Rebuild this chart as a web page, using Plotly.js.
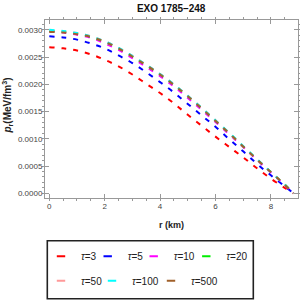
<!DOCTYPE html>
<html>
<head>
<meta charset="utf-8">
<script src="https://cdn.plot.ly/plotly-3.0.1.min.js"></script>
<style>html,body{margin:0;padding:0;background:#fff;}#chart{width:300px;height:300px;}</style>
</head>
<body>
<div id="chart"></div>
<script>
var r = [0, 0.5, 1, 1.5, 2, 2.5, 3, 3.5, 4, 4.5, 5, 5.5, 6, 6.5, 7, 7.5, 8, 8.5, 8.82];
var tau3   = [0.00268,0.00266,0.00262,0.00255,0.00245,0.00233,0.00218,0.00201,0.00184,0.00165,0.00144,0.00124,0.00104,0.00085,0.00066,0.00046,0.00027,0.00010,0];
var tau5   = [0.00288,0.00286,0.00282,0.00275,0.00266,0.00253,0.00239,0.00222,0.00204,0.00185,0.00164,0.00143,0.00122,0.00099,0.00077,0.00054,0.00033,0.00013,0];
var tau10  = [0.00297,0.00295,0.00291,0.00285,0.00275,0.00263,0.00248,0.00232,0.00215,0.00196,0.00175,0.00153,0.00131,0.00108,0.00085,0.00061,0.00038,0.00015,0];
var tau20  = [0.00298,0.00296,0.00293,0.00287,0.00278,0.00266,0.00251,0.00235,0.00218,0.00199,0.00178,0.00156,0.00133,0.00110,0.00086,0.00062,0.00039,0.00016,0];
var tau50  = [0.00299,0.00297,0.00294,0.00288,0.00279,0.00267,0.00252,0.00236,0.00219,0.00200,0.00179,0.00157,0.00134,0.00110,0.00086,0.00062,0.00039,0.00016,0];
var tau100 = [0.00300,0.00298,0.00294,0.00288,0.00279,0.00267,0.00252,0.00236,0.00219,0.00200,0.00179,0.00157,0.00134,0.00111,0.00087,0.00063,0.00039,0.00016,0];
var tau500 = [0.00296,0.00295,0.00292,0.00287,0.00278,0.00266,0.00251,0.00235,0.00218,0.00199,0.00178,0.00156,0.00133,0.00110,0.00086,0.00062,0.00039,0.00016,0];

var labels = ['<i>τ</i>=3','<i>τ</i>=5','<i>τ</i>=10','<i>τ</i>=20','<i>τ</i>=50','<i>τ</i>=100','<i>τ</i>=500'];
var series = [tau3, tau5, tau10, tau20, tau50, tau100, tau500];
var colors = ['#ff0000','#0000ff','#ff00ff','#00ee00','#ff9999','#00ffff','#a0602a'];

var font = 'Liberation Sans, Arial, sans-serif';
// legend key positions (px in the 300x300 canvas): key centre x, row centre y
var keyX = [58, 104.7, 150.7, 203.3, 58, 109, 168];
var keyY = [256.3, 256.3, 256.3, 256.3, 280.7, 280.7, 280.7];

var traces = [];
for (var i = 0; i < series.length; i++) {
  traces.push({
    x: r, y: series[i], mode: 'lines', type: 'scatter', showlegend: false,
    line: {color: colors[i], width: 2, dash: '5px,7px', shape: 'spline'},
    hoverinfo: 'skip'
  });
}
var layout = {
  width: 300, height: 300,
  margin: {l: 45, r: 2, t: 20, b: 102},
  paper_bgcolor: '#fff', plot_bgcolor: '#fff',
  font: {family: font, color: '#444', size: 8},
  title: {text: '<b>EXO 1785–248</b>', font: {family: font, size: 10, color: '#111'},
          x: 0.5705, xref: 'container', xanchor: 'center', y: 0.973, yref: 'container', yanchor: 'middle'},
  xaxis: {
    range: [-0.155, 8.98], dtick: 2, tick0: 0, showgrid: false, zeroline: false,
    showline: true, linecolor: '#999', linewidth: 1, mirror: 'ticks',
    ticks: 'inside', ticklen: 4, tickcolor: '#999', tickwidth: 1,
    minor: {dtick: 0.5, ticklen: 2, tickcolor: '#999', showgrid: false},
    tickfont: {size: 8, color: '#444'},
    title: {text: '<b>r (km)</b>', font: {size: 9, color: '#222'}, standoff: 12}
  },
  yaxis: {
    range: [-0.000086, 0.00318], dtick: 0.0005, tick0: 0, tickformat: '.4f', showgrid: false, zeroline: false,
    showline: true, linecolor: '#999', linewidth: 1, mirror: 'ticks',
    ticks: 'inside', ticklen: 4, tickcolor: '#999', tickwidth: 1,
    minor: {dtick: 0.0001, ticklen: 2, tickcolor: '#999', showgrid: false},
    tickfont: {size: 8, color: '#444'}
  },
  annotations: [{
    text: '<b><i>p</i><sub>r</sub>(MeV/fm<sup>3</sup>)</b>', textangle: -90,
    xref: 'paper', yref: 'paper', x: -0.150, y: 0.52, xanchor: 'center', yanchor: 'middle',
    showarrow: false, font: {family: font, size: 10, color: '#222'}
  }],
  shapes: [{
    type: 'rect', xref: 'paper', yref: 'paper',
    x0: (47.3 - 45) / 253, x1: (253.3 - 45) / 253, y0: (198 - 298.7) / 178, y1: (198 - 240.7) / 178,
    line: {color: '#222', width: 1.6}, fillcolor: 'rgba(0,0,0,0)', layer: 'below'
  }],
  showlegend: true
};

for (var j = 0; j < series.length; j++) {
  var lid = j === 0 ? 'legend' : 'legend' + (j + 1);
  traces.push({
    x: [null], y: [null], mode: 'markers', type: 'scatter', name: labels[j], legend: lid,
    marker: {symbol: 'line-ew-open', size: 6, color: colors[j], line: {color: colors[j], width: 2}}
  });
  layout[lid] = {
    orientation: 'h', xref: 'container', yref: 'container', xanchor: 'left', yanchor: 'middle',
    x: (keyX[j] - 17) / 300, y: 1 - keyY[j] / 300,
    borderwidth: 0, bgcolor: 'rgba(0,0,0,0)',
    font: {family: font, size: 10, color: '#222'}, itemwidth: 30
  };
}

Plotly.newPlot('chart', traces, layout, {staticPlot: true, displayModeBar: false});
</script>
</body>
</html>
